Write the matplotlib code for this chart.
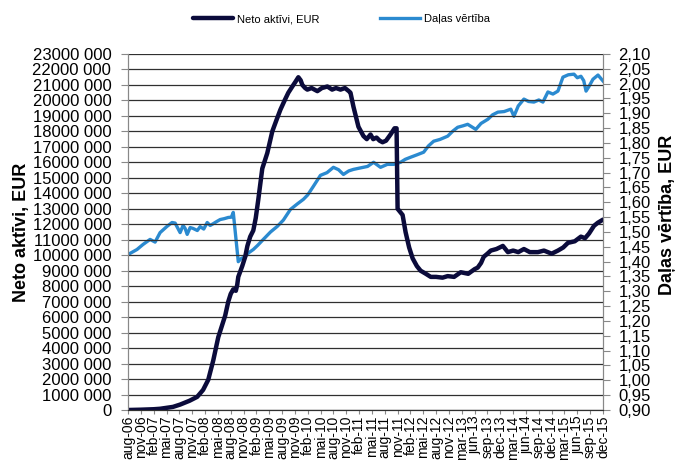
import matplotlib
matplotlib.use('Agg')
import matplotlib.pyplot as plt
from matplotlib.ticker import FuncFormatter, MultipleLocator

plt.rcParams['font.family'] = ['Liberation Sans', 'DejaVu Sans']

# x tick labels (quarterly, category axis)
x_labels = ['aug-06', 'nov-06',
            'feb-07', 'mai-07', 'aug-07', 'nov-07',
            'feb-08', 'mai-08', 'aug-08', 'nov-08',
            'feb-09', 'mai-09', 'aug-09', 'nov-09',
            'feb-10', 'mai-10', 'aug-10', 'nov-10',
            'feb-11', 'mai-11', 'aug-11', 'nov-11',
            'feb-12', 'mai-12', 'aug-12', 'nov-12',
            'mar-13', 'jun-13', 'sep-13', 'dec-13',
            'mar-14', 'jun-14', 'sep-14', 'dec-14',
            'mar-15', 'jun-15', 'sep-15', 'dec-15']

# Neto aktivi (million EUR), positions in label-index units
nav_x = [0, 1.0, 2.0, 2.5, 3.5, 4.06, 4.8, 5.39, 5.85, 6.25, 6.64, 7.03, 7.57, 7.81,
         8.0, 8.2, 8.4, 8.51, 8.59, 8.9, 9.13, 9.3, 9.52, 9.76, 9.95, 10.15, 10.46,
         10.85, 11.24, 11.55, 11.87, 12.2, 12.49, 12.8, 13.04, 13.27, 13.45, 13.58,
         13.8, 13.97, 14.3, 14.75, 15.1, 15.53, 15.9, 16.2, 16.55, 16.9, 17.2, 17.33,
         17.56, 17.95, 18.34, 18.6, 18.89, 19.1, 19.36, 19.6, 19.83, 20.1, 20.45,
         20.76, 20.92, 21.0, 21.39, 21.62, 21.9, 22.17, 22.5, 22.79, 23.2, 23.58,
         24.0, 24.5, 24.9, 25.4, 25.92, 26.5, 27.0, 27.24, 27.5, 27.71, 28.0, 28.26,
         28.7, 29.2, 29.59, 30.0, 30.4, 30.84, 31.3, 31.93, 32.4, 33.0, 33.49, 33.9,
         34.27, 34.8, 35.28, 35.6, 35.91, 36.3, 36.6, 37.0]
nav_m = [0.0, 0.02, 0.05, 0.08, 0.2, 0.35, 0.6, 0.85, 1.3, 1.95, 3.2, 4.7, 6.1, 7.0,
         7.5, 7.8, 7.7, 8.1, 8.6, 9.3, 9.9, 10.6, 11.2, 11.6, 12.4, 13.6, 15.6,
         16.6, 18.0, 18.7, 19.4, 20.0, 20.5, 20.9, 21.2, 21.5, 21.3, 21.0,
         20.8, 20.7, 20.8, 20.6, 20.8, 20.9, 20.7, 20.8, 20.7, 20.8, 20.6, 20.5,
         19.6, 18.3, 17.7, 17.5, 17.8, 17.5, 17.6, 17.4, 17.3, 17.4, 17.8,
         18.2, 18.2, 13.0, 12.6, 11.5, 10.5, 9.8, 9.3, 9.0, 8.8, 8.6,
         8.6, 8.55, 8.65, 8.6, 8.9, 8.8, 9.1, 9.2, 9.5, 9.9, 10.1, 10.3,
         10.4, 10.6, 10.2, 10.3, 10.2, 10.4, 10.2, 10.2, 10.3, 10.1, 10.3, 10.5,
         10.8, 10.9, 11.2, 11.1, 11.4, 11.9, 12.1, 12.3]

# Dalas vertiba (EUR)
price_x = [0, 0.7, 1.17, 1.72, 2.11, 2.5, 3.04, 3.43, 3.67, 4.06, 4.29, 4.45, 4.61,
           4.84, 5.07, 5.4, 5.62, 5.9, 6.17, 6.4, 6.64, 6.9, 7.18, 7.5, 7.81, 8.05,
           8.2, 8.59, 8.8, 9.13, 9.4, 9.76, 10.1, 10.54, 11.1, 11.63, 12.1, 12.65,
           13.2, 13.66, 14.0, 14.44, 14.99, 15.5, 16.0, 16.4, 16.78, 17.2, 17.56,
           18.1, 18.66, 19.13, 19.67, 20.2, 20.69, 21.23, 21.6, 22.01, 22.5, 23.03,
           23.4, 23.81, 24.3, 24.9, 25.3, 25.68, 26.1, 26.46, 27.09, 27.5, 28.03,
           28.4, 28.81, 29.3, 29.82, 30.06, 30.4, 30.84, 31.2, 31.62, 32.0, 32.32,
           32.71, 33.1, 33.49, 33.88, 34.3, 34.74, 35.0, 35.28, 35.5, 35.68, 35.9,
           36.22, 36.61, 37.0]
price = [1.424, 1.441, 1.458, 1.475, 1.466, 1.498, 1.519, 1.532, 1.530, 1.498, 1.522,
         1.512, 1.492, 1.515, 1.512, 1.505, 1.518, 1.510, 1.532, 1.522, 1.528, 1.535,
         1.542, 1.545, 1.549, 1.550, 1.566, 1.400, 1.410, 1.417, 1.430, 1.441, 1.455,
         1.475, 1.500, 1.519, 1.540, 1.576, 1.595, 1.610, 1.625, 1.654, 1.691, 1.700,
         1.718, 1.710, 1.694, 1.706, 1.711, 1.716, 1.721, 1.735, 1.718, 1.728, 1.728,
         1.735, 1.745, 1.752, 1.760, 1.769, 1.790, 1.806, 1.812, 1.823, 1.840, 1.853,
         1.858, 1.863, 1.846, 1.866, 1.880, 1.895, 1.904, 1.906, 1.914, 1.890, 1.925,
         1.948, 1.940, 1.938, 1.945, 1.938, 1.972, 1.965, 1.975, 2.022, 2.030, 2.032,
         2.020, 2.025, 2.010, 1.975, 1.990, 2.015, 2.029, 2.009]

navy = '#0b0b3b'
blue = '#2b8ad0'

fig = plt.figure(figsize=(6.83, 4.63), dpi=100)
ax = fig.add_axes([128 / 683, 53 / 463, 475 / 683, 356 / 463])
ax2 = ax.twinx()

ax.plot(nav_x, [v * 1e6 for v in nav_m], color=navy, lw=3.2,
        solid_capstyle='round', solid_joinstyle='round', label='Neto aktīvi, EUR')
ax2.plot(price_x, price, color=blue, lw=2.4,
         solid_joinstyle='round', label='Daļas vērtība')
ax.set_zorder(ax2.get_zorder() + 1)
ax.patch.set_visible(False)

ax.set_xlim(0, len(x_labels) - 1)
ax.set_ylim(0, 23e6)
ax.yaxis.set_major_locator(MultipleLocator(1e6))
ax.yaxis.set_major_formatter(FuncFormatter(
    lambda v, p: '0' if v == 0 else f'{int(round(v / 1e6))}000 000'))
ax.grid(axis='y', color='#303030', lw=0.9)
ax.set_xticks(range(len(x_labels)))
ax.set_xticklabels(x_labels, rotation=90, fontsize=10)
ax.tick_params(axis='x', length=3, pad=1, color='#888888')
ax.tick_params(axis='y', labelsize=12, length=5, pad=7, color='#888888')

ax2.set_ylim(0.90, 2.10)
ax2.yaxis.set_major_locator(MultipleLocator(0.05))
ax2.yaxis.set_major_formatter(FuncFormatter(lambda v, p: f'{v:.2f}'.replace('.', ',')))
ax2.tick_params(axis='y', labelsize=12, length=5, pad=6, color='#888888')

for a in (ax, ax2):
    for s in ('left', 'right'):
        a.spines[s].set_color('#888888')
    a.spines['top'].set_visible(False)
    a.spines['bottom'].set_color('#303030')

fig.text(22 / 683, 1 - 232 / 463, 'Neto aktīvi, EUR', rotation=90, ha='center',
         va='center', fontsize=13, fontweight='bold')
fig.text(668 / 683, 1 - 215 / 463, 'Daļas vērtība, EUR', rotation=90, ha='center',
         va='center', fontsize=13, fontweight='bold')

h1, l1 = ax.get_legend_handles_labels()
h2, l2 = ax2.get_legend_handles_labels()
fig.legend(h1 + h2, l1 + l2, loc='center', bbox_to_anchor=(0.5, 1 - 19 / 463),
           ncol=2, frameon=False, fontsize=8, handlelength=3.6, columnspacing=5.5,
           handletextpad=0.3)

fig.savefig('out.png', dpi=100)
